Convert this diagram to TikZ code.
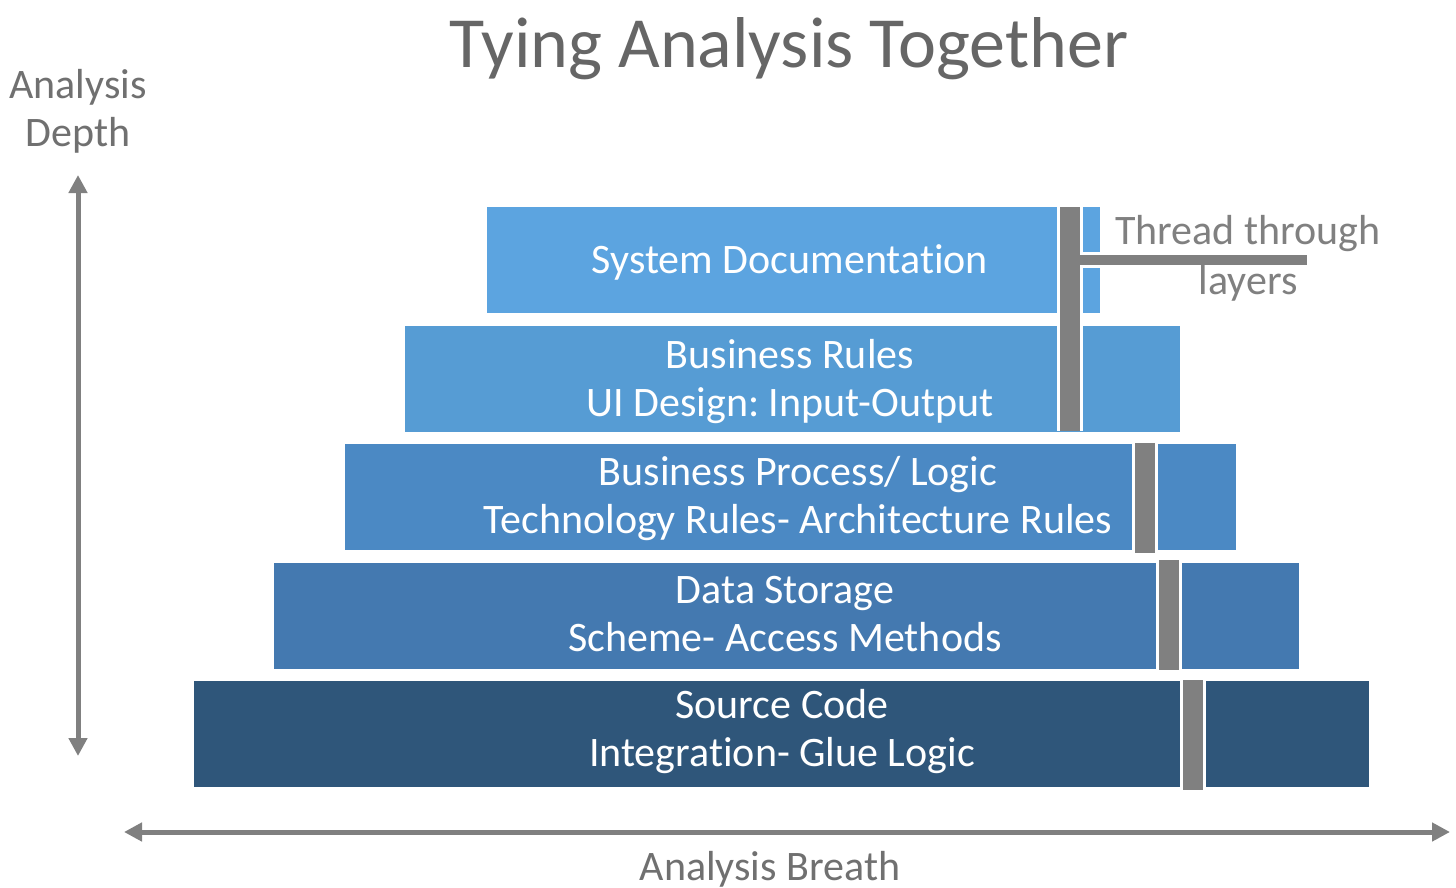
\documentclass[tikz,border=0pt]{standalone}
\usepackage{fontspec}
\setmainfont{Carlito}[Ligatures=NoCommon]
\usepackage{xcolor}
\usetikzlibrary{arrows.meta}
\frenchspacing

\definecolor{layerA}{RGB}{92,164,224}
\definecolor{layerB}{RGB}{86,156,212}
\definecolor{layerC}{RGB}{75,137,196}
\definecolor{layerD}{RGB}{68,121,176}
\definecolor{layerE}{RGB}{47,86,122}
\definecolor{threadgray}{RGB}{128,128,128}
\definecolor{labelgray}{RGB}{112,112,112}

\begin{document}
\begin{tikzpicture}[x=0.5pt, y=-0.5pt]
    % layer styles
    \tikzstyle{layer}=[
      rectangle,
      inner sep=0pt,
      minimum height=53pt
    ]
    \tikzstyle{layertext}=[
      text=white,
      font=\fontsize{21}{24}\selectfont,
      align=center
    ]
    \tikzstyle{caption}=[
      text=labelgray,
      font=\fontsize{21}{24}\selectfont,
      align=center
    ]
    \tikzstyle{axis}=[
      draw=threadgray,
      line width=2.5pt,
      {Triangle[length=9pt, width=9pt]}-{Triangle[length=9pt, width=9pt]}
    ]

    \useasboundingbox[fill=white] (0,0) rectangle (1456,888);

    % Title
    \node[caption, font=\fontsize{36}{40}\selectfont, text=black!60] (title) at (789,49) {Tying Analysis Together};

    % Layers, top to bottom
    \node[layer, fill=layerA, minimum width=306.5pt] (L1) at (793.5,260) {};
    \node[layer, fill=layerB, minimum width=387.5pt] (L2) at (792.5,378.5) {};
    \node[layer, fill=layerC, minimum width=445.5pt] (L3) at (790.5,497) {};
    \node[layer, fill=layerD, minimum width=512.5pt] (L4) at (786.5,615.5) {};
    \node[layer, fill=layerE, minimum width=587.5pt] (L5) at (781.5,734) {};

    % Layer texts
    \node[layertext] (T1) at (790,262) {System Documentation};
    \node[layertext] (T2) at (790,382) {Business Rules\\UI Design: Input-Output};
    \node[layertext] (T3) at (798,499) {Business Process/ Logic\\Technology Rules- Architecture Rules};
    \node[layertext] (T4) at (785,614) {Data Storage\\Scheme- Access Methods};
    \node[layertext] (T5) at (782,732) {Source Code\\Integration- Glue Logic};

    % Thread through layers
    \coordinate (t1a) at (1070,207);
    \coordinate (t1b) at (1070,431);
    \coordinate (t1c) at (1307,260);
    \draw[white, line width=13pt] (t1a) -- (t1b);
    \draw[white, line width=8pt] (1070,260) -- (t1c);
    \draw[threadgray, line width=10pt] (t1a) -- (t1b);
    \draw[threadgray, line width=5pt] (1070,260) -- (t1c);
    \foreach \x/\ya/\yb in {1145/443/553, 1169/560/670, 1193/680/790} {
      \draw[white, line width=13pt] (\x,\ya) -- (\x,\yb);
      \draw[threadgray, line width=10pt] (\x,\ya) -- (\x,\yb);
    }
    \node[caption, text=threadgray] (thread) at (1248,258) {Thread through\\[1pt]layers};

    % Axes
    \node[caption] (depth) at (78,111) {Analysis\\Depth};
    \coordinate (up) at (78,175);
    \coordinate (down) at (78,756);
    \draw[axis] (down) -- (up);
    \node[caption] (breath) at (770,869) {Analysis Breath};
    \coordinate (left) at (124,832);
    \coordinate (right) at (1450,832);
    \draw[axis] (left) -- (right);
\end{tikzpicture}
\end{document}
